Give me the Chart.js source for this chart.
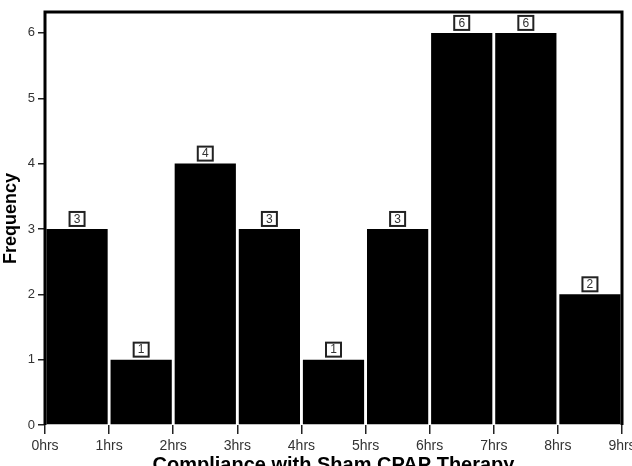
<!DOCTYPE html>
<html>
<head>
<meta charset="utf-8">
<script src="https://cdn.jsdelivr.net/npm/chart.js@4"></script>
<style>
  body { margin: 0; background: #fff; }
  #wrap { width: 632px; height: 466px; }
</style>
</head>
<body>
<div id="wrap"><canvas id="grafica" width="632" height="466"></canvas></div>
<script>
// datos
const horas = [0, 1, 2, 3, 4, 5, 6, 7, 8, 9];
const centros = [0.5, 1.5, 2.5, 3.5, 4.5, 5.5, 6.5, 7.5, 8.5];
const frecuencias = [3, 1, 4, 3, 1, 3, 6, 6, 2];
const ticksY = [0, 1, 2, 3, 4, 5, 6];

const puntos = centros.map((c, i) => ({ x: c, y: frecuencias[i] }));

// marco negro grueso (izq, arriba, der)
const marco = {
    id: "marco",
    afterDatasetsDraw(chart) {
        const a = chart.chartArea;
        const ctx = chart.ctx;
        ctx.save();
        ctx.strokeStyle = "#000";
        ctx.lineWidth = 3;
        ctx.beginPath();
        ctx.moveTo(a.left, a.bottom);
        ctx.lineTo(a.left, a.top);
        ctx.lineTo(a.right, a.top);
        ctx.lineTo(a.right, a.bottom);
        ctx.stroke();
        ctx.restore();
    }
};

// cajitas con el valor encima de cada barra
const etiquetas = {
    id: "etiquetas",
    afterDatasetsDraw(chart) {
        const ctx = chart.ctx;
        const meta = chart.getDatasetMeta(0);
        ctx.save();
        ctx.font = "12px Arial, 'Liberation Sans'";
        ctx.textAlign = "center";
        ctx.textBaseline = "middle";
        meta.data.forEach((bar, i) => {
            const w = 15, h = 14;
            const x = bar.x - w / 2;
            const y = bar.y - h - 3;
            ctx.fillStyle = "#fff";
            ctx.fillRect(x, y, w, h);
            ctx.strokeStyle = "#222";
            ctx.lineWidth = 2;
            ctx.strokeRect(x, y, w, h);
            ctx.fillStyle = "#333";
            ctx.fillText(String(frecuencias[i]), bar.x, y + h / 2 + 0.5);
        });
        ctx.restore();
    }
};

new Chart(document.getElementById("grafica"), {
    type: "bar",
    data: {
        datasets: [{
            data: puntos,
            backgroundColor: "#000",
            borderWidth: 0,
            barPercentage: 1,
            categoryPercentage: 0.955
        }]
    },
    options: {
        responsive: false,
        animation: false,
        layout: { padding: { top: 12, right: 0, left: 0, bottom: 0 } },
        plugins: {
            legend: { display: false },
            tooltip: { enabled: false }
        },
        scales: {
            x: {
                type: "linear",
                offset: false,
                min: 0,
                max: 9,
                afterBuildTicks(scale) {
                    scale.ticks = horas.map(v => ({ value: v }));
                },
                ticks: {
                    autoSkip: false,
                    maxRotation: 0,
                    color: "#333",
                    padding: 4,
                    font: { family: "Arial, 'Liberation Sans'", size: 14 },
                    callback: v => v + "hrs"
                },
                grid: {
                    drawOnChartArea: false,
                    color: "#222",
                    lineWidth: 1.5,
                    tickLength: 9,
                    offset: false
                },
                border: { display: false },
                title: {
                    display: true,
                    text: "Compliance with Sham CPAP Therapy",
                    color: "#000",
                    font: { family: "Arial, 'Liberation Sans'", size: 20, weight: "bold" },
                    padding: { top: 0, bottom: -11 }
                },
                afterFit(scale) {
                    scale.height = 41;
                    scale.paddingRight = 10; // la etiqueta 9hrs queda cortada como en el original
                }
            },
            y: {
                min: 0,
                max: 6.32,
                afterBuildTicks(scale) {
                    scale.ticks = ticksY.map(v => ({ value: v }));
                },
                ticks: {
                    color: "#333",
                    padding: 3,
                    font: { family: "Arial, 'Liberation Sans'", size: 13 }
                },
                grid: {
                    drawOnChartArea: false,
                    color: "#222",
                    lineWidth: 1.5,
                    tickLength: 7
                },
                border: { display: false },
                title: {
                    display: true,
                    text: "Frequency",
                    color: "#000",
                    font: { family: "Arial, 'Liberation Sans'", size: 18, weight: "bold" },
                    padding: { top: 0, bottom: 2 }
                },
                afterFit(scale) { scale.width = 45; }
            }
        }
    },
    plugins: [marco, etiquetas]
});
</script>
</body>
</html>
